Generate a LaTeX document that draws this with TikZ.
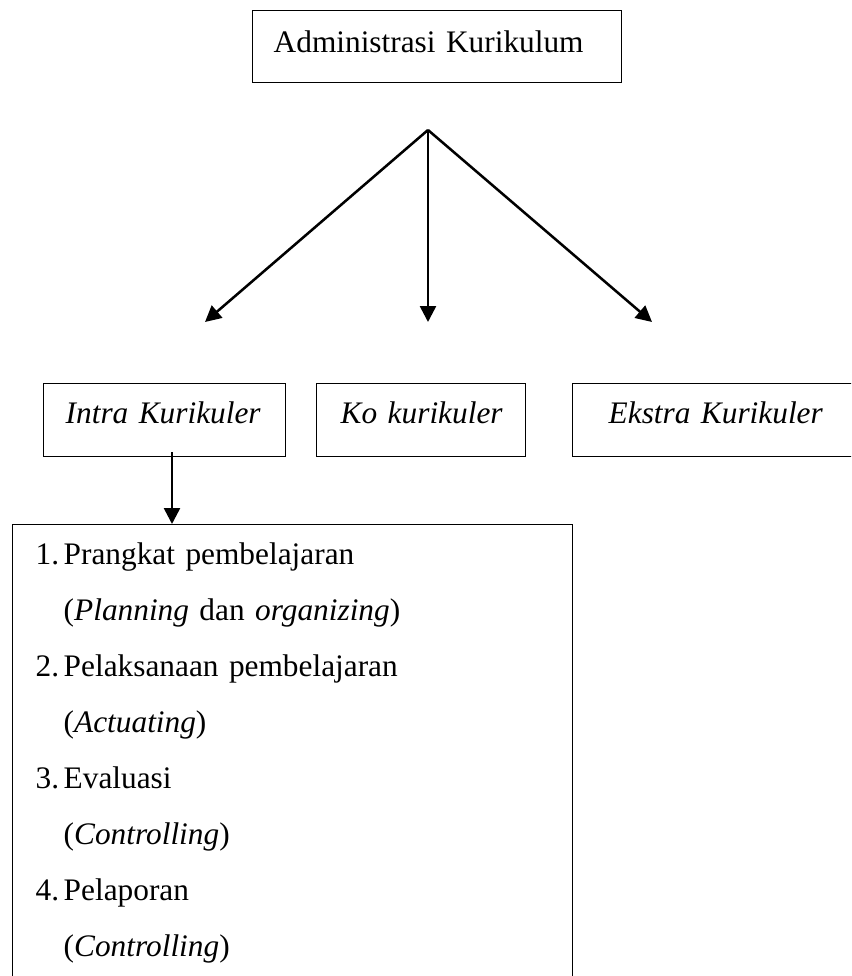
\documentclass[tikz,border=0pt]{standalone}
\usepackage{fontspec}
\setmainfont{Liberation Serif}
\usetikzlibrary{arrows.meta}
\newcommand{\itemno}[1]{\makebox[21pt][l]{#1}}
\newcommand{\itemgap}{\hspace*{21pt}}
\tikzset{%
  box/.style      = {shape=rectangle, draw, line width=1.1pt,%
                     align=left, anchor=north west, inner ysep=0pt,%
                     font=\fontsize{23.5}{42}\selectfont},%
  headbox/.style  = {box, text width=245.25pt, inner xsep=15.75pt,%
                     text height=31.5pt, text depth=22.5pt},%
  kindbox/.style  = {box, text height=30pt, text depth=24.75pt},%
  listbox/.style  = {box, text width=385.5pt, inner xsep=17.25pt, inner ysep=13.2pt},%
  arr/.style      = {line width=1.9pt, -{Triangle[length=12pt,width=12pt]}}%
}
\begin{document}
\begin{tikzpicture}[x=0.75pt,y=-0.75pt]
	\clip (0,0) rectangle (851,976);
	% top
	\node [headbox] (admin) at (252,10) {\mbox{Administrasi Kurikulum}};
	% three kinds
	\node [kindbox, text width=148.5pt, inner xsep=16.5pt] (intra) at (43,383) {\mbox{\textit{Intra Kurikuler}}};
	\node [kindbox, text width=120.75pt, inner xsep=18pt] (ko) at (316,383) {\mbox{\textit{Ko kurikuler}}};
	\node [kindbox, text width=198pt, inner xsep=27pt] (ekstra) at (572,383) {\mbox{\textit{Ekstra Kurikuler}}};
	% list under intra
	\node [listbox] (plan) at (12,524) {%
		\itemno{1.}Prangkat pembelajaran\\
		\itemgap(\textit{Planning} dan \textit{organizing})\\
		\itemno{2.}Pelaksanaan pembelajaran\\
		\itemgap(\textit{Actuating})\\
		\itemno{3.}Evaluasi\\
		\itemgap(\textit{Controlling})\\
		\itemno{4.}Pelaporan\\
		\itemgap(\textit{Controlling})};
	% arrows
	\coordinate (fork) at (428,130);
	\coordinate (toIntra) at (205,322);
	\coordinate (toKo) at (428,322);
	\coordinate (toEkstra) at (652,322);
	\draw [arr] (fork) -- (toIntra);
	\draw [arr] (fork) -- (toKo);
	\draw [arr] (fork) -- (toEkstra);
	\coordinate (drop) at (172,452);
	\draw [arr] (drop) -- (drop |- plan.north);
\end{tikzpicture}
\end{document}
